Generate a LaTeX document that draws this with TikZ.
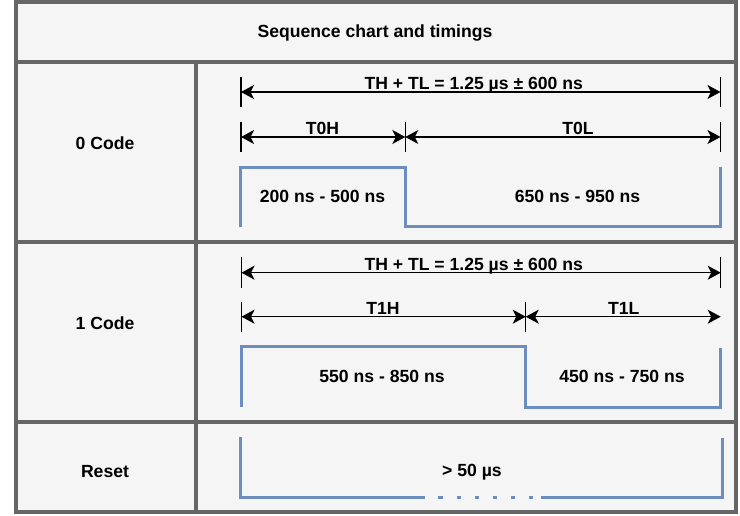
\documentclass[tikz,border=0pt]{standalone}
\usepackage{fontspec}
\setmainfont{Liberation Sans}
\usetikzlibrary{arrows.meta}
\definecolor{cellfill}{HTML}{F5F5F5}
\definecolor{cellline}{HTML}{666666}
\definecolor{wave}{HTML}{6C8EBF}
\begin{document}
\begin{tikzpicture}[x=1pt,y=-1pt,
  lbl/.style={font=\fontsize{17.6}{21}\selectfont\bfseries, inner sep=0pt, anchor=base},
  dimarrow/.style={line width=1.3pt, {Stealth[length=13pt,width=14pt,inset=3.5pt]}-{Stealth[length=13pt,width=14pt,inset=3.5pt]}},
  ticklin/.style={line width=1.3pt},
  wavef/.style={wave, line width=3pt},
  gridlin/.style={cellline, line width=4pt}]
\useasboundingbox[fill=white] (0,0) rectangle (740,516);
% table
\fill[cellfill] (15.5,1.8) rectangle (735.7,512);
\draw[gridlin] (15.5,1.8) rectangle (735.7,512);
\draw[gridlin] (15.5,62.3) -- (735.7,62.3);
\draw[gridlin] (15.5,242.5) -- (735.7,242.5);
\draw[gridlin] (15.5,422) -- (735.7,422);
\draw[gridlin] (195.7,62.3) -- (195.7,512);
% labels
\node[lbl] (title) at (375,37.5) {Sequence chart and timings};
\node[lbl] (c0) at (105,150) {0 Code};
\node[lbl] (c1) at (105,330) {1 Code};
\node[lbl] (rst) at (105,477.3) {Reset};
% ---- 0 code ----
\coordinate (a0l) at (241,92);
\coordinate (a0r) at (720.5,92);
\coordinate (b0l) at (241,137);
\coordinate (b0m) at (405.3,137);
\coordinate (b0r) at (720.5,137);
\draw[ticklin] (241,77) -- (241,107);
\draw[ticklin] (720.5,77) -- (720.5,107);
\draw[ticklin] (241,122) -- (241,152);
\draw[ticklin] (405.3,122) -- (405.3,152);
\draw[ticklin] (720.5,122) -- (720.5,152);
\draw[dimarrow] (a0l) -- (a0r);
\draw[dimarrow] (b0l) -- (b0m);
\draw[dimarrow] (b0m) -- (b0r);
\node[lbl] (t0) at (473.7,90) {TH + TL = 1.25 µs ± 600 ns};
\node[lbl] (t0h) at (322.5,135) {T0H};
\node[lbl] (t0l) at (578,135) {T0L};
\draw[wavef] (240.7,226.7) -- (240.7,167.8) -- (405.3,167.8) -- (405.3,226.5) -- (720.5,226.5) -- (720.5,167.3);
\node[lbl] (w0a) at (322.5,202.3) {200 ns - 500 ns};
\node[lbl] (w0b) at (577.5,202.3) {650 ns - 950 ns};
% ---- 1 code ----
\coordinate (a1l) at (241.5,272.7);
\coordinate (a1r) at (720.7,272.7);
\coordinate (b1l) at (241.5,316.7);
\coordinate (b1m) at (525.7,316.7);
\coordinate (b1r) at (720.7,316.7);
\draw[ticklin] (241.5,257) -- (241.5,288);
\draw[ticklin] (720.7,257) -- (720.7,288);
\draw[ticklin] (241.5,302) -- (241.5,332);
\draw[ticklin] (525.7,302) -- (525.7,332);
\draw[dimarrow] (a1l) -- (a1r);
\draw[dimarrow] (b1l) -- (b1m);
\draw[dimarrow] (b1m) -- (b1r);
\node[lbl] (t1) at (473.7,270) {TH + TL = 1.25 µs ± 600 ns};
\node[lbl] (t1h) at (383,314) {T1H};
\node[lbl] (t1l) at (623.7,314) {T1L};
\draw[wavef] (241.5,406.7) -- (241.5,346.7) -- (525,346.7) -- (525,407.3) -- (720.7,407.3) -- (720.7,347.7);
\node[lbl] (w1a) at (382,382.3) {550 ns - 850 ns};
\node[lbl] (w1b) at (622,382.3) {450 ns - 750 ns};
% ---- reset ----
\draw[wavef] (240.5,437.3) -- (240.5,497) -- (425,497);
\draw[wavef] (541,497) -- (722.2,497) -- (722.2,437.6);
\foreach \d in {438.3,456.7,475,492.7,510.8,529}
  \draw[wavef] (\d,497) -- (\d+4.4,497);
\node[lbl] (w2) at (472,476.7) {> 50 µs};
\end{tikzpicture}
\end{document}
